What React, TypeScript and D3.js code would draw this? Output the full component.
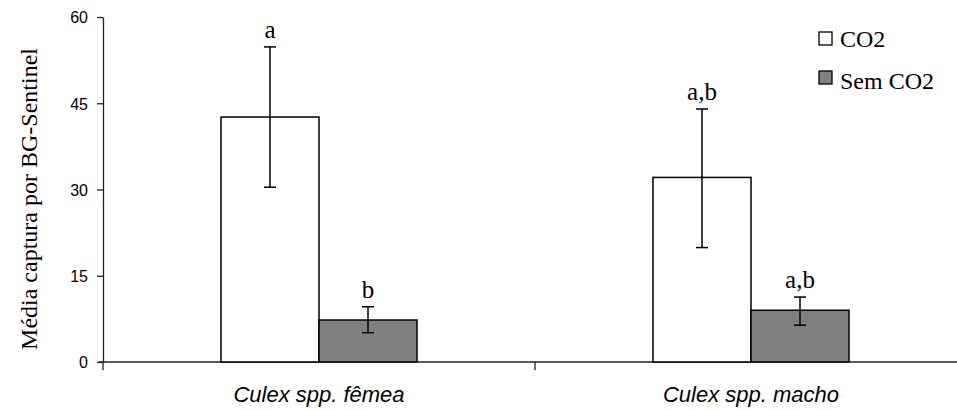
import * as d3 from "d3";
import { useEffect, useRef } from "react";

const categories = ["Culex spp. fêmea", "Culex spp. macho"];
const seriesNames = ["CO2", "Sem CO2"];
const co2Values = [42.6, 32.1];
const co2Low = [30.4, 19.9];
const co2High = [54.8, 44.0];
const semValues = [7.3, 9.0];
const semLow = [5.1, 6.4];
const semHigh = [9.6, 11.3];
const co2Letters = ["a", "a,b"];
const semLetters = ["b", "a,b"];
const yTicks = [0, 15, 30, 45, 60];

const App = () => {
    const ref = useRef<SVGSVGElement>(null);

    useEffect(() => {
        const svg = d3.select(ref.current);
        svg.selectAll("*").remove();

        const left = 103;
        const right = 967;
        const top = 17;
        const bottom = 362;
        const color = ["#ffffff", "#808080"];
        const serif = "Liberation Serif, Times New Roman, serif";
        const sans = "Liberation Sans, Arial, sans-serif";

        const x = d3.scaleBand<string>()
            .domain(categories)
            .range([left, right]);

        const inner = d3.scaleBand<string>()
            .domain(seriesNames)
            .range([0, 196]);

        const y = d3.scaleLinear()
            .domain([0, 60])
            .range([bottom, top]);

        const series = [
            { name: seriesNames[0], values: co2Values, low: co2Low, high: co2High, letters: co2Letters },
            { name: seriesNames[1], values: semValues, low: semLow, high: semHigh, letters: semLetters },
        ];

        // Y axis
        const yAxis = svg.append("g")
            .attr("transform", `translate(${left}, 0)`)
            .call(d3.axisLeft(y).tickValues(yTicks).tickSize(6).tickSizeOuter(0));
        yAxis.select(".domain").attr("stroke", "#222").attr("stroke-width", 1.3);
        yAxis.selectAll(".tick line").attr("stroke", "#222").attr("stroke-width", 1.3);
        yAxis.selectAll(".tick text")
            .attr("x", -15)
            .attr("dy", "0.36em")
            .style("font-family", sans)
            .style("font-size", "16px")
            .attr("fill", "#000");

        // X axis
        svg.append("line")
            .attr("x1", left - 4).attr("x2", 957)
            .attr("y1", bottom).attr("y2", bottom)
            .attr("stroke", "#222").attr("stroke-width", 1.3);
        const xTicks = [left, x(categories[1])!, right];
        svg.selectAll(".xtick")
            .data(xTicks)
            .join("line")
            .attr("x1", d => d).attr("x2", d => d)
            .attr("y1", bottom).attr("y2", bottom + 8)
            .attr("stroke", "#222").attr("stroke-width", 1.3);

        svg.selectAll(".xlabel")
            .data(categories)
            .join("text")
            .attr("x", d => x(d)! + x.bandwidth() / 2)
            .attr("y", 402)
            .attr("text-anchor", "middle")
            .style("font-family", sans)
            .style("font-style", "italic")
            .style("font-size", "22px")
            .text(d => d);

        // Bars
        series.forEach((s, si) => {
            const g = svg.append("g");
            const bx = (i: number) => x(categories[i])! + (x.bandwidth() - 196) / 2 + inner(s.name)!;
            const cx = (i: number) => bx(i) + inner.bandwidth() / 2;
            const idx = categories.map((_, i) => i);

            g.selectAll("rect")
                .data(idx)
                .join("rect")
                .attr("x", i => bx(i))
                .attr("y", i => y(s.values[i]))
                .attr("width", inner.bandwidth())
                .attr("height", i => y(0) - y(s.values[i]))
                .attr("fill", color[si])
                .attr("stroke", "#000")
                .attr("stroke-width", 1.5);

            // error bars
            g.selectAll(".err")
                .data(idx)
                .join("line")
                .attr("x1", i => cx(i)).attr("x2", i => cx(i))
                .attr("y1", i => y(s.low[i])).attr("y2", i => y(s.high[i]))
                .attr("stroke", "#000").attr("stroke-width", 1.5);
            g.selectAll(".capl")
                .data(idx.flatMap(i => [[i, s.low[i]], [i, s.high[i]]]))
                .join("line")
                .attr("x1", d => cx(d[0]) - 6).attr("x2", d => cx(d[0]) + 6)
                .attr("y1", d => y(d[1])).attr("y2", d => y(d[1]))
                .attr("stroke", "#000").attr("stroke-width", 1.5);

            g.selectAll("text")
                .data(idx)
                .join("text")
                .attr("x", i => cx(i))
                .attr("y", i => y(s.high[i]) - 9)
                .attr("text-anchor", "middle")
                .style("font-family", serif)
                .style("font-size", "25px")
                .text(i => s.letters[i]);
        });

        // Legend
        const legend = svg.append("g").attr("transform", "translate(819, 32)");
        seriesNames.forEach((n, i) => {
            legend.append("rect")
                .attr("x", 0).attr("y", i * 39)
                .attr("width", 13).attr("height", 13)
                .attr("fill", color[i])
                .attr("stroke", "#000").attr("stroke-width", 1.3);
            legend.append("text")
                .attr("x", 21).attr("y", i * 42 + 15)
                .style("font-family", serif)
                .style("font-size", "24px")
                .text(n);
        });

        // Y title
        svg.append("text")
            .attr("transform", `translate(37, 199) rotate(-90)`)
            .attr("text-anchor", "middle")
            .style("font-family", serif)
            .style("font-size", "24px")
            .text("Média captura por BG-Sentinel");
    });

    return (
        <svg ref={ref} width={957} height={410} style={{ position: "absolute", left: 0, top: 0, background: "#fff" }}>
        </svg>
    );
};

export default App;
